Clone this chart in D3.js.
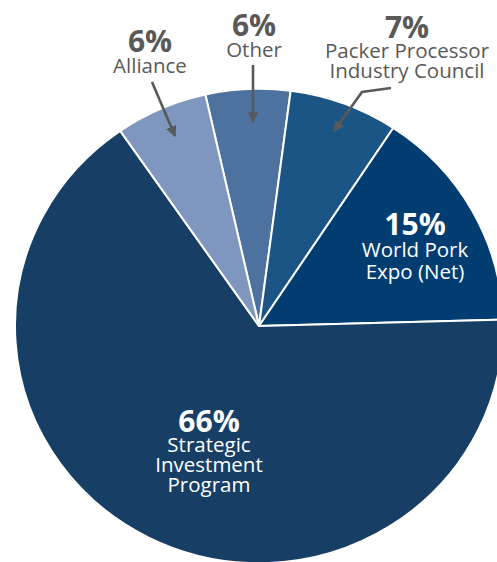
<!DOCTYPE html>
<html>
<head>
<meta charset="utf-8">
<script src="https://cdn.jsdelivr.net/npm/d3@7"></script>
<style>
  html, body { margin: 0; padding: 0; background: #ffffff; }
  svg { display: block; }
  text { font-family: "Open Sans", "DejaVu Sans", sans-serif; }
</style>
</head>
<body>
<script>
// ---- data ----
const categories = ["Other", "Packer Processor Industry Council", "World Pork Expo (Net)", "Strategic Investment Program", "Alliance"];
const shares = [5.6, 7.2, 15.3, 65.8, 6.1];
const pctLabels = ["6%", "7%", "15%", "66%", "6%"];
const nameLines = [["Other"], ["Packer Processor", "Industry Council"], ["World Pork", "Expo (Net)"], ["Strategic", "Investment", "Program"], ["Alliance"]];
const colors = ["#4d72a0", "#1b5586", "#023d72", "#173f66", "#7f97bf"];

// ---- layout (presentation only) ----
const W = 497, H = 562;
const cx = 259, cy = 326, R = 244, yScale = 0.972;
const startDeg = -12.7;
const labelLayout = [
  { x: 254, y: 36, color: "#595959", gap: 21 },
  { x: 407, y: 38, color: "#595959", gap: 20 },
  { x: 415, y: 235, color: "#ffffff", gap: 22 },
  { x: 209, y: 432, color: "#ffffff", gap: 20 },
  { x: 150, y: 52, color: "#595959", gap: 21 }
];
const arrows = [
  [[253, 65], [253, 122]],
  [[391, 88], [362, 92], [334, 131]],
  null,
  null,
  [[152, 82], [175, 136]]
];

const svg = d3.select("body").append("svg").attr("width", W).attr("height", H);

const pie = d3.pie().sort(null).value(d => d)
  .startAngle(startDeg * Math.PI / 180)
  .endAngle(startDeg * Math.PI / 180 + 2 * Math.PI);
const arc = d3.arc().innerRadius(0).outerRadius(R);

const g = svg.append("g").attr("transform", `translate(${cx},${cy}) scale(1,${yScale})`);
g.selectAll("path.slice")
  .data(pie(shares))
  .join("path")
  .attr("class", "slice")
  .attr("d", arc)
  .attr("fill", (d, i) => colors[i])
  .attr("stroke", "#ffffff")
  .attr("stroke-width", 2)
  .attr("stroke-linejoin", "round");

// arrow marker
svg.append("defs").append("marker")
  .attr("id", "ah")
  .attr("viewBox", "0 0 10 10")
  .attr("refX", 9).attr("refY", 5)
  .attr("markerWidth", 4.2).attr("markerHeight", 4.2)
  .attr("orient", "auto")
  .append("path")
  .attr("d", "M0,0 L10,5 L0,10 Z")
  .attr("fill", "#595959");

const line = d3.line();
arrows.forEach(pts => {
  if (!pts) return;
  svg.append("path")
    .attr("d", line(pts))
    .attr("fill", "none")
    .attr("stroke", "#595959")
    .attr("stroke-width", 2.6)
    .attr("marker-end", "url(#ah)");
});

// labels: one text element per label block
categories.forEach((c, i) => {
  const L = labelLayout[i];
  const t = svg.append("text")
    .attr("x", L.x).attr("y", L.y)
    .attr("text-anchor", "middle")
    .attr("fill", L.color);
  t.append("tspan")
    .attr("x", L.x).attr("y", L.y)
    .attr("font-size", 30)
    .attr("font-weight", 700)
    .text(pctLabels[i]);
  nameLines[i].forEach((ln, j) => {
    t.append("tspan")
      .attr("x", L.x).attr("y", L.y + L.gap * (j + 1))
      .attr("font-size", 20.5)
      .text(ln);
  });
});
</script>
</body>
</html>
